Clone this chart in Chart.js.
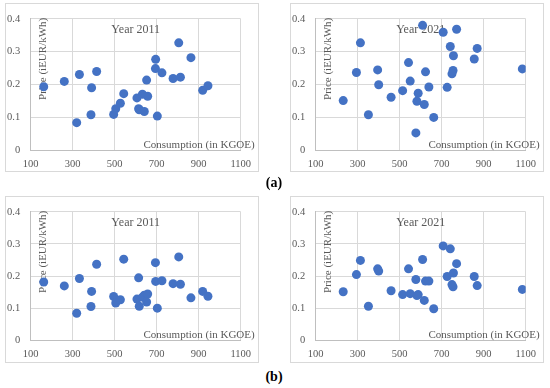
<!DOCTYPE html>
<html>
<head>
<meta charset="utf-8">
<script src="https://cdn.jsdelivr.net/npm/chart.js@4.4.1/dist/chart.umd.min.js"></script>
<style>
    body { margin: 0; background: #fff; width: 550px; height: 388px; position: relative; overflow: hidden; }
    canvas { position: absolute; outline: 1px solid #d9d9d9; outline-offset: -1px; }
    .cap { position: absolute; width: 40px; text-align: center; font: bold 14px "Liberation Serif", serif; color: #000; line-height: 14px; }
</style>
</head>
<body>
<canvas id="c2011a" width="254" height="169" style="left:5px;top:3px"></canvas>
<canvas id="c2021a" width="254" height="169" style="left:290px;top:3px"></canvas>
<div class="cap" style="left:254px;top:176px">(a)</div>
<canvas id="c2011b" width="254" height="167" style="left:5px;top:196px"></canvas>
<canvas id="c2021b" width="254" height="167" style="left:290px;top:196px"></canvas>
<div class="cap" style="left:254px;top:370px">(b)</div>

<script>
// DATA

const consumption2011 = [162, 260, 332, 414, 390, 319, 387, 495, 505, 527, 543, 606, 614, 617,
    641, 632, 657, 652, 695, 694, 703, 725, 778, 813, 805, 863, 919, 944];
const price2011a = [0.194, 0.210, 0.231, 0.240, 0.191, 0.085, 0.109, 0.110, 0.127, 0.144, 0.173, 0.160, 0.127, 0.124,
    0.119, 0.171, 0.165, 0.214, 0.277, 0.249, 0.105, 0.236, 0.219, 0.223, 0.327, 0.282, 0.183, 0.197];
const price2011b = [0.182, 0.170, 0.193, 0.237, 0.153, 0.085, 0.106, 0.137, 0.117, 0.127, 0.253, 0.129, 0.195, 0.107,
    0.141, 0.135, 0.145, 0.120, 0.184, 0.242, 0.101, 0.186, 0.177, 0.175, 0.260, 0.133, 0.153, 0.138];

const consumption2021 = [231, 294, 313, 351, 395, 400, 459, 514, 542, 550, 588, 582, 577, 609,
    617, 623, 639, 662, 707, 726, 741, 771, 756, 754, 749, 855, 869, 1084];
const price2021a = [0.152, 0.237, 0.327, 0.109, 0.245, 0.200, 0.162, 0.182, 0.267, 0.211, 0.174, 0.150, 0.054, 0.380,
    0.140, 0.239, 0.193, 0.101, 0.359, 0.192, 0.316, 0.368, 0.288, 0.243, 0.233, 0.278, 0.310, 0.248];
const price2021b = [0.152, 0.205, 0.249, 0.107, 0.223, 0.216, 0.155, 0.143, 0.223, 0.146, 0.143, 0.140, 0.190, 0.252,
    0.125, 0.185, 0.185, 0.099, 0.294, 0.199, 0.285, 0.239, 0.210, 0.167, 0.174, 0.199, 0.171, 0.159];

const xTickLabels = ['100', '300', '500', '700', '900', '1100'];
const yTickLabels = ['0', '0.1', '0.2', '0.3', '0.4'];

const xTitle = 'Consumption (in KGOE)';
const yTitle = 'Price (iEUR/kWh)';


// TEXT INSIDE THE PLOT (Excel style)

const panelText = {
    id: 'panelText',
    beforeDatasetsDraw(chart, args, opts) {
        const {ctx, chartArea: a} = chart;
        ctx.save();
        ctx.fillStyle = '#595959';
        ctx.textBaseline = 'middle';

        ctx.font = '12px "Liberation Serif"';
        ctx.textAlign = 'center';
        ctx.fillText(opts.title, (a.left + a.right) / 2, a.top + 11);

        ctx.font = '11px "Liberation Serif"';
        ctx.textAlign = 'right';
        ctx.fillText(xTitle, a.right + 14, a.bottom - 6);

        ctx.translate(a.left + 12, a.top - 1);
        ctx.rotate(-Math.PI / 2);
        ctx.fillText(yTitle, 0, 0);
        ctx.restore();
    }
};


const renderPanel = (id, title, xs, ys, padTop, xHeight) => {
    const canvas = document.getElementById(id);
    const tickFont = {family: '"Liberation Serif"', size: 10.5, lineHeight: 1};

    new Chart(canvas.getContext('2d'), {
        type: 'scatter',
        data: {
            datasets: [{
                data: xs.map((x, i) => ({x: x, y: ys[i]})),
                backgroundColor: '#4472C4',
                borderWidth: 0,
                pointRadius: 4.5,
                pointHoverRadius: 4.5,
            }],
        },
        options: {
            responsive: false,
            animation: false,
            layout: {padding: {left: 0, top: padTop, right: canvas.width - 25.7 - 210, bottom: 0}},
            plugins: {
                legend: {display: false},
                tooltip: {enabled: false},
                panelText: {title: title},
            },
            scales: {
                x: {
                    type: 'linear', min: 100, max: 1100,
                    ticks: {
                        stepSize: 200, padding: 8, color: '#595959', font: tickFont, maxRotation: 0,
                        callback: (v, i) => xTickLabels[i],
                    },
                    grid: {color: '#d9d9d9', drawTicks: false},
                    border: {color: '#bfbfbf'},
                    afterFit: (s) => { s.height = xHeight; },
                },
                y: {
                    type: 'linear', min: 0, max: 0.4,
                    ticks: {
                        stepSize: 0.1, padding: 10.5, color: '#595959', font: tickFont,
                        callback: (v, i) => yTickLabels[i],
                    },
                    grid: {color: '#d9d9d9', drawTicks: false},
                    border: {color: '#bfbfbf'},
                    afterFit: (s) => { s.width = 25.7; },
                },
            },
        },
        plugins: [panelText],
    });
}


// MAIN

renderPanel('c2011a', 'Year 2011', consumption2011, price2011a, 8.7, 21.3);
renderPanel('c2021a', 'Year 2021', consumption2021, price2021a, 8.7, 21.3);
renderPanel('c2011b', 'Year 2011', consumption2011, price2011b, 5.7, 22.3);
renderPanel('c2021b', 'Year 2021', consumption2021, price2021b, 5.7, 22.3);
</script>
</body>
</html>
